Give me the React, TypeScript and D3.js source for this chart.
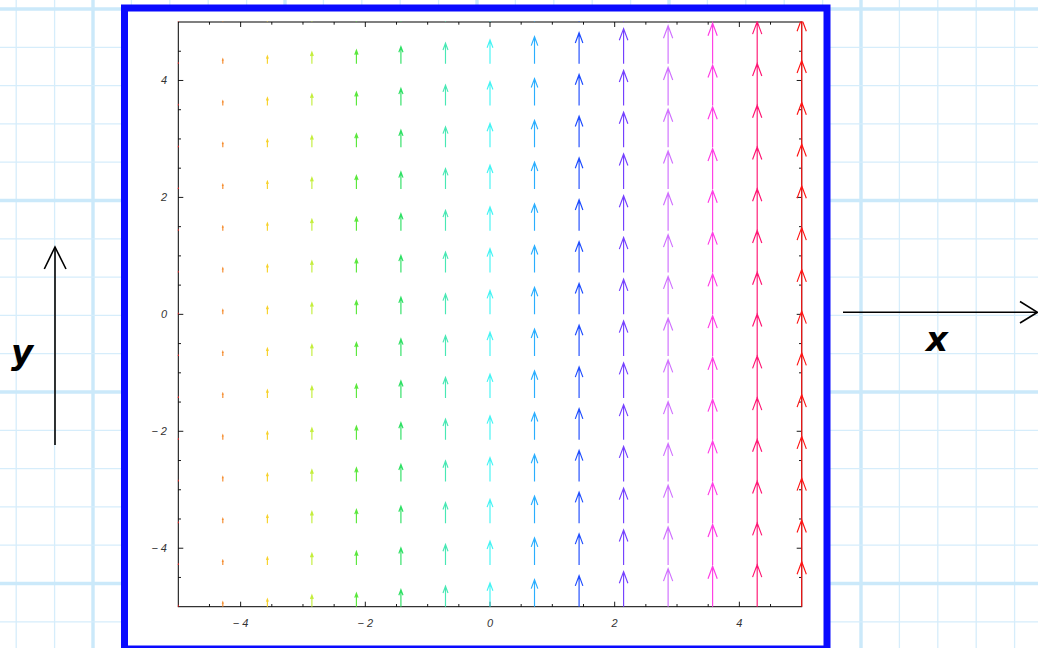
import React from "react";
import * as d3 from "d3";

// sample grid (data units)
const xPoints = [-5, -4.286, -3.571, -2.857, -2.143, -1.429, -0.714, 0, 0.714, 1.429, 2.143, 2.857, 3.571, 4.286, 5];
const yPoints = [-5, -4.286, -3.571, -2.857, -2.143, -1.429, -0.714, 0, 0.714, 1.429, 2.143, 2.857, 3.571, 4.286, 5];
// vertical component of the field per column
const vyByColumn = [0.1, 1.0, 1.7, 2.55, 3.0, 3.8, 4.55, 5.3, 6.0, 6.9, 7.8, 8.45, 9.0, 9.35, 10];
const columnColors = [
  "#ff2020", "#f58a2a", "#f7d22a", "#c4ee3c", "#5ae83c", "#2ee064", "#48e8b4",
  "#44f4f4", "#2aaeff", "#1e4cff", "#7440ff", "#d070ff", "#ff3ce4", "#ff1472", "#ff1414",
];
const xTickLabels = [-4, -2, 0, 2, 4];
const yTickLabels = [-4, -2, 0, 2, 4];
const minorTicks = [-4.5, -4, -3.5, -3, -2.5, -2, -1.5, -1, -0.5, 0, 0.5, 1, 1.5, 2, 2.5, 3, 3.5, 4, 4.5];

const W = 1038;
const H = 648;
const plot = { left: 178.3, right: 801.7, top: 22, bottom: 606.7 };

const fmt = (v: number) => (v < 0 ? "\u2212 " + Math.abs(v) : String(v));

export default function App() {
  const x = d3.scaleLinear().domain([-5, 5]).range([plot.left, plot.right]);
  const y = d3.scaleLinear().domain([-5, 5]).range([plot.bottom, plot.top]);
  const len = d3.scaleLinear().domain([0, 10]).range([0, 45]);

  const vLines: { p: number; thick: boolean }[] = [];
  for (let k = 0; k < 28; k++) vLines.push({ p: 16.2 + k * 38.4, thick: k % 5 === 2 });
  const hLines: { p: number; thick: boolean }[] = [];
  for (let k = 0; k < 18; k++) hLines.push({ p: 9 + k * 38.3, thick: k % 5 === 0 });

  const arrows: JSX.Element[] = [];
  xPoints.forEach((xv, i) => {
    const L = len(vyByColumn[i]);
    const hl = Math.min(0.33 * L, 12.5);
    const hw = 0.37 * hl;
    yPoints.forEach((yv, j) => {
      const px = x(xv);
      const tail = y(yv);
      const tip = tail - L;
      const d =
        `M${px},${tail}L${px},${tip}` +
        `M${px - hw},${tip + hl}L${px},${tip}L${px + hw},${tip + hl}`;
      arrows.push(
        <path key={`a${i}-${j}`} d={d} fill="none" stroke={columnColors[i]} strokeWidth={1.15} strokeLinejoin="miter" strokeLinecap="butt" />
      );
    });
  });

  const tickFont = { fontFamily: "Liberation Sans, Arial, sans-serif", fontStyle: "italic", fontSize: 11, fill: "#333" } as const;

  return (
    <svg width={W} height={H} style={{ position: "absolute", left: 0, top: 0 }} xmlns="http://www.w3.org/2000/svg">
      <defs>
        <clipPath id="plotClip">
          <rect x={plot.left - 10} y={plot.top - 0.5} width={plot.right - plot.left + 20} height={H} />
        </clipPath>
      </defs>
      <rect x={0} y={0} width={W} height={H} fill="#ffffff" />
      {vLines.map((l, k) => (
        <line key={`v${k}`} x1={l.p} x2={l.p} y1={0} y2={H} stroke={l.thick ? "#cbe9fa" : "#d6edfb"} strokeWidth={l.thick ? 3.4 : 1.3} />
      ))}
      {hLines.map((l, k) => (
        <line key={`h${k}`} x1={0} x2={W} y1={l.p} y2={l.p} stroke={l.thick ? "#cbe9fa" : "#d6edfb"} strokeWidth={l.thick ? 3.4 : 1.3} />
      ))}
      {/* blue frame */}
      <rect x={124.5} y={8} width={702.5} height={641} fill="#ffffff" stroke="#0a0aff" strokeWidth={7} />

      {/* plot box */}
      <rect x={plot.left} y={plot.top} width={plot.right - plot.left} height={plot.bottom - plot.top} fill="none" stroke="#000" strokeWidth={1} />
      {minorTicks.map((t) => {
        const major = xTickLabels.includes(t);
        const tl = major ? 5 : 2.7;
        return (
          <g key={`t${t}`} stroke="#000" strokeWidth={0.9}>
            <line x1={x(t)} x2={x(t)} y1={plot.bottom} y2={plot.bottom - tl} />
            <line x1={x(t)} x2={x(t)} y1={plot.top} y2={plot.top + tl} />
            <line x1={plot.left} x2={plot.left + tl} y1={y(t)} y2={y(t)} />
            <line x1={plot.right} x2={plot.right - tl} y1={y(t)} y2={y(t)} />
          </g>
        );
      })}
      {xTickLabels.map((t) => (
        <text key={`xl${t}`} x={x(t)} y={626.5} textAnchor="middle" {...tickFont}>{fmt(t)}</text>
      ))}
      {yTickLabels.map((t) => (
        <text key={`yl${t}`} x={167} y={y(t) + 4} textAnchor="end" {...tickFont}>{fmt(t)}</text>
      ))}

      <g clipPath="url(#plotClip)">{arrows}</g>

      {/* outside axis arrows */}
      <g fill="none" stroke="#000" strokeWidth={1.6}>
        <line x1={55} x2={55} y1={445} y2={247} />
        <path d="M44.3,269L55,247L66,269" />
        <line x1={843} x2={1037} y1={312.3} y2={312.3} />
        <path d="M1020,301.5L1037.5,312.3L1020,323" />
      </g>
      <text x={22} y={364} textAnchor="middle" fontFamily="DejaVu Sans, sans-serif" fontStyle="italic" fontWeight="bold" fontSize={34} fill="#000">y</text>
      <text x={937} y={351} textAnchor="middle" fontFamily="DejaVu Sans, sans-serif" fontStyle="italic" fontWeight="bold" fontSize={34} fill="#000">x</text>
    </svg>
  );
}
